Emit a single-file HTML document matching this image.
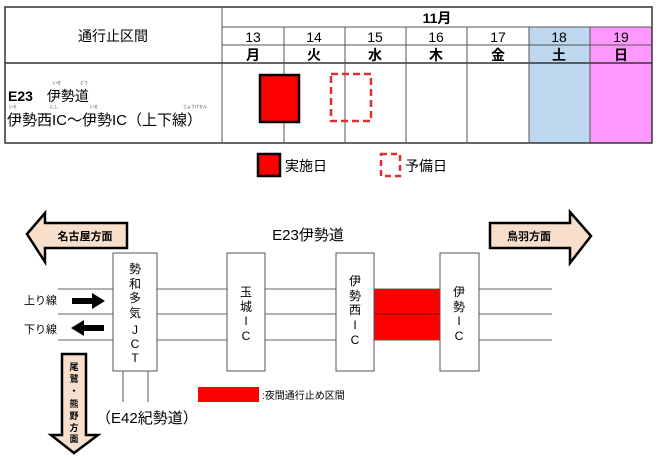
<!DOCTYPE html>
<html><head><meta charset="utf-8"><style>
html,body{margin:0;padding:0;background:#fff;}
svg{display:block;font-family:"Liberation Sans","Noto Sans CJK JP",sans-serif;}
</style></head><body>
<svg width="660" height="459" viewBox="0 0 660 459" xmlns="http://www.w3.org/2000/svg">
<!-- table -->
<rect x="529" y="27" width="61" height="116" fill="#bdd7ee"/>
<rect x="590" y="27" width="62" height="116" fill="#ff99ff"/>
<g stroke="#555" stroke-width="1" fill="none">
<rect x="5" y="7" width="647" height="136" stroke="#333" stroke-width="1.5"/>
<line x1="222" y1="7" x2="222" y2="143"/>
<line x1="222" y1="27" x2="652" y2="27"/>
<line x1="222" y1="45" x2="652" y2="45"/>
<line x1="5" y1="63" x2="652" y2="63" stroke="#333" stroke-width="1.5"/>
<line x1="284" y1="27" x2="284" y2="143"/>
<line x1="345" y1="27" x2="345" y2="143"/>
<line x1="406" y1="27" x2="406" y2="143"/>
<line x1="467" y1="27" x2="467" y2="143"/>
<line x1="529" y1="27" x2="529" y2="143"/>
<line x1="590" y1="27" x2="590" y2="143"/>
</g>
<text x="113" y="41" font-size="14" text-anchor="middle">通行止区間</text>
<text x="437" y="23" font-size="14" font-weight="bold" text-anchor="middle">11月</text>
<g font-size="14" text-anchor="middle">
<text x="253" y="42">13</text><text x="314" y="42">14</text><text x="375" y="42">15</text><text x="436" y="42">16</text><text x="498" y="42">17</text><text x="559" y="42">18</text><text x="621" y="42">19</text>
</g>
<g font-size="14" font-weight="bold" text-anchor="middle">
<text x="253" y="60">月</text><text x="314" y="60">火</text><text x="375" y="60">水</text><text x="436" y="60">木</text><text x="498" y="60">金</text><text x="559" y="60">土</text><text x="621" y="60">日</text>
</g>
<g font-size="4" fill="#333">
<text x="53" y="84">いせ</text><text x="80" y="84">どう</text>
<text x="9" y="108">いせ</text><text x="50" y="108">にし</text><text x="90" y="108">いせ</text><text x="183" y="108">じょうげせん</text>
</g>
<text x="8" y="101" font-size="14"><tspan font-weight="bold">E23</tspan>　伊勢道</text>
<text x="7" y="125" font-size="15">伊勢西IC～伊勢IC（上下線）</text>
<rect x="260" y="75" width="39" height="47" fill="#f00" stroke="#000" stroke-width="2.5"/>
<rect x="331" y="74" width="40" height="47" fill="none" stroke="#e03030" stroke-width="2.5" stroke-dasharray="7,4"/>
<!-- legend -->
<rect x="258" y="154" width="22" height="22" fill="#f00" stroke="#000" stroke-width="2.5"/>
<text x="285" y="171" font-size="14">実施日</text>
<rect x="381" y="154" width="19" height="22" fill="none" stroke="#e03030" stroke-width="2.5" stroke-dasharray="6,4"/>
<text x="405" y="171" font-size="14">予備日</text>
<!-- diagram -->
<text x="308" y="240" font-size="15" text-anchor="middle">E23伊勢道</text>
<polygon points="27,234 45,213 45,223 127,223 127,248 45,248 45,262" fill="#f8dfcc" stroke="#000" stroke-width="2.5"/>
<text x="85" y="240" font-size="11" font-weight="bold" text-anchor="middle">名古屋方面</text>
<polygon points="591,236 570,212 570,223 490,223 490,248 570,248 570,263" fill="#f8dfcc" stroke="#000" stroke-width="2.5"/>
<text x="529" y="240" font-size="11" font-weight="bold" text-anchor="middle">鳥羽方面</text>
<polygon points="62,354 86,354 86,435 98,435 74,453 51,435 62,435" fill="#f8dfcc" stroke="#000" stroke-width="2.5"/>
<g font-size="9" font-weight="bold" text-anchor="middle">
<text x="74" y="370">尾</text><text x="74" y="382">鷲</text><text x="74" y="394">・</text><text x="74" y="407">熊</text><text x="74" y="419">野</text><text x="74" y="431">方</text><text x="74" y="442">面</text>
</g>
<g stroke="#999" stroke-width="1.5">
<line x1="58" y1="289" x2="552" y2="289"/>
<line x1="58" y1="314" x2="552" y2="314"/>
<line x1="58" y1="340" x2="552" y2="340"/>
</g>
<rect x="374" y="289" width="66" height="51" fill="#f00"/>
<line x1="374" y1="314" x2="440" y2="314" stroke="#800" stroke-width="1"/>
<g fill="#fff" stroke="#555" stroke-width="1">
<rect x="113" y="253" width="44" height="118"/>
<rect x="227" y="253" width="38" height="118"/>
<rect x="336" y="253" width="38" height="118"/>
<rect x="440" y="253" width="39" height="118"/>
</g>
<g stroke="#555"><line x1="123" y1="371" x2="123" y2="402"/><line x1="148" y1="371" x2="148" y2="402"/></g>
<g font-size="12" text-anchor="middle">
<text x="135" y="273">勢</text><text x="135" y="288">和</text><text x="135" y="302">多</text><text x="135" y="317">気</text><text x="135" y="334">J</text><text x="135" y="348">C</text><text x="135" y="362">T</text>
<text x="246" y="296">玉</text><text x="246" y="311">城</text><text x="246" y="325">I</text><text x="246" y="340">C</text>
<text x="355" y="285">伊</text><text x="355" y="300">勢</text><text x="355" y="314">西</text><text x="355" y="329">I</text><text x="355" y="344">C</text>
<text x="459" y="296">伊</text><text x="459" y="311">勢</text><text x="459" y="325">I</text><text x="459" y="340">C</text>
</g>
<text x="24" y="304" font-size="11">上り線</text>
<text x="24" y="333" font-size="11">下り線</text>
<polygon points="72,298 92,298 92,293 105,301 92,309 92,304 72,304" fill="#000"/>
<polygon points="104,325 84,325 84,320 71,328 84,336 84,331 104,331" fill="#000"/>
<rect x="198" y="387" width="61" height="15" fill="#f00"/>
<text x="262" y="399" font-size="10">:夜間通行止め区間</text>
<text x="96" y="423" font-size="15">（E42紀勢道）</text>
</svg>
</body></html>
